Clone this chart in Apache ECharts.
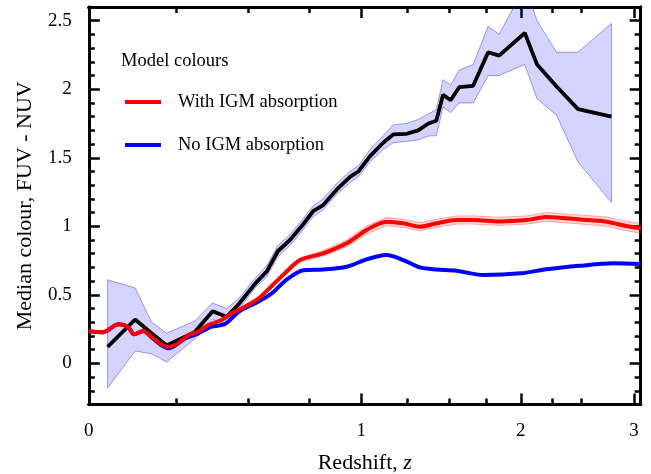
<!DOCTYPE html>
<html>
<head>
<meta charset="utf-8">
<script src="https://cdn.jsdelivr.net/npm/echarts@6/dist/echarts.min.js"></script>
<style>
  html, body { margin: 0; padding: 0; background: #fff; }
  #chart { width: 651px; height: 474px; }
</style>
</head>
<body>
<div id="chart"></div>
<script>
// Median FUV - NUV colour against redshift, x axis scaled as log10(1 + z).

// Axis ticks
const xTickLabels = ['0', '1', '2', '3'];
const xMajorZ = [0, 1, 2, 3];
const xMinorZ = [0.25, 0.5, 0.75, 1.25, 1.5, 1.75, 2.25, 2.5];
const yTickLabels = ['0', '0.5', '1', '1.5', '2', '2.5'];
const yMajor = [0, 0.5, 1, 1.5, 2, 2.5];
const yMinor = [-0.2, -0.1, 0.1, 0.2, 0.3, 0.4, 0.6, 0.7, 0.8, 0.9, 1.1, 1.2, 1.3, 1.4,
                1.6, 1.7, 1.8, 1.9, 2.1, 2.2, 2.3, 2.4];

// Observed median colour with its spread
const obsZ      = [0.049, 0.125, 0.173, 0.219, 0.31, 0.37, 0.42, 0.463, 0.526, 0.572, 0.618, 0.668,
                   0.718, 0.769, 0.815, 0.877, 0.943, 0.985, 1.044, 1.114, 1.169, 1.244, 1.311, 1.372,
                   1.42, 1.462, 1.51, 1.565, 1.658, 1.761, 1.839, 2.031, 2.127, 2.286, 2.47, 2.778];
const obsMedian = [0.12, 0.32, 0.22, 0.13, 0.23, 0.38, 0.34, 0.43, 0.58, 0.67, 0.82, 0.90,
                   1.00, 1.11, 1.155, 1.265, 1.36, 1.40, 1.51, 1.61, 1.67, 1.675, 1.70, 1.75,
                   1.77, 1.96, 1.92, 2.015, 2.025, 2.27, 2.245, 2.41, 2.18, 2.02, 1.855, 1.80];
const obsLow    = [-0.18, 0.09, 0.07, 0.01, 0.18, 0.32, 0.29, 0.39, 0.55, 0.63, 0.78, 0.86,
                   0.96, 1.07, 1.12, 1.23, 1.32, 1.36, 1.47, 1.56, 1.61, 1.62, 1.63, 1.66,
                   1.66, 1.87, 1.83, 1.90, 1.90, 2.10, 2.10, 2.18, 1.93, 1.81, 1.47, 1.175];
const obsHigh   = [0.61, 0.55, 0.30, 0.22, 0.31, 0.44, 0.40, 0.47, 0.62, 0.71, 0.86, 0.94,
                   1.04, 1.15, 1.20, 1.31, 1.40, 1.44, 1.56, 1.66, 1.74, 1.75, 1.78, 1.82,
                   1.85, 2.07, 2.03, 2.14, 2.18, 2.46, 2.40, 2.75, 2.50, 2.27, 2.27, 2.48];

// Model colour with IGM absorption, and its spread
const igmZ      = [0.0, 0.0375, 0.078, 0.105, 0.1225, 0.149, 0.173, 0.198, 0.224, 0.255, 0.288, 0.321,
                   0.355, 0.402, 0.438, 0.487, 0.538, 0.59, 0.645, 0.711, 0.815, 0.927, 1.027, 1.133,
                   1.225, 1.321, 1.421, 1.547, 1.658, 1.843, 2.044, 2.203, 2.485, 2.731, 2.925, 3.07];
const igmColour = [0.235, 0.228, 0.285, 0.265, 0.212, 0.236, 0.194, 0.146, 0.121, 0.146, 0.205, 0.231,
                   0.28, 0.316, 0.365, 0.413, 0.47, 0.56, 0.655, 0.754, 0.803, 0.876, 0.973, 1.034,
                   1.022, 0.997, 1.022, 1.046, 1.046, 1.036, 1.046, 1.068, 1.05, 1.034, 1.002, 0.985];
const igmSpread = [0.004, 0.004, 0.004, 0.004, 0.004, 0.004, 0.004, 0.004, 0.004, 0.004, 0.004, 0.005,
                   0.005, 0.005, 0.006, 0.006, 0.008, 0.01, 0.012, 0.015, 0.02, 0.025, 0.03, 0.03,
                   0.03, 0.03, 0.03, 0.03, 0.03, 0.03, 0.03, 0.032, 0.033, 0.034, 0.035, 0.035];

// Model colour without IGM absorption
const noIgmZ      = [0.0, 0.0375, 0.078, 0.105, 0.1225, 0.149, 0.173, 0.198, 0.224, 0.277, 0.321, 0.367,
                     0.414, 0.463, 0.538, 0.592, 0.653, 0.726, 0.815, 0.927, 1.027, 1.133, 1.225, 1.321,
                     1.421, 1.547, 1.725, 2.0, 2.2, 2.485, 2.8, 3.07];
const noIgmColour = [0.235, 0.228, 0.285, 0.265, 0.212, 0.236, 0.19, 0.14, 0.110, 0.18, 0.219, 0.268,
                     0.287, 0.375, 0.45, 0.51, 0.61, 0.68, 0.685, 0.705, 0.759, 0.79, 0.754, 0.70,
                     0.685, 0.676, 0.645, 0.657, 0.686, 0.712, 0.73, 0.725];

const Z_MAX = 3.07;
const Y_MIN = -0.3, Y_MAX = 2.6;

const toAxis = z => Math.log10(1 + z);
const pairs = (zs, vs) => zs.map((z, i) => [toAxis(z), vs[i]]);

const FONT = 'Liberation Serif';
const X_MAX = toAxis(Z_MAX);

function bandSeries(name, zs, lo, hi, fill, stroke) {
  return {
    type: 'custom',
    name: name,
    silent: true,
    coordinateSystem: 'cartesian2d',
    xAxisIndex: 0,
    yAxisIndex: 0,
    data: [[toAxis(zs[0]), lo[0]]],
    renderItem: function (params, api) {
      const pts = [];
      for (let i = 0; i < zs.length; i++) pts.push(api.coord([toAxis(zs[i]), hi[i]]));
      for (let i = zs.length - 1; i >= 0; i--) pts.push(api.coord([toAxis(zs[i]), lo[i]]));
      const cs = params.coordSys;
      return {
        type: 'polygon',
        shape: { points: pts },
        style: { fill: fill, stroke: stroke, lineWidth: 1 },
        clipPath: { type: 'rect', shape: { x: cs.x, y: cs.y, width: cs.width, height: cs.height } }
      };
    }
  };
}

function xAxisDef(position, values, len, withLabels) {
  return {
    type: 'value', position: position, min: 0, max: X_MAX,
    axisLine: { show: true, onZero: false, lineStyle: { color: '#000', width: 3 } },
    axisTick: { show: true, inside: true, length: len, customValues: values, lineStyle: { color: '#000', width: 2.5 } },
    axisLabel: withLabels ? {
      show: true, customValues: values, margin: 17, color: '#000', fontFamily: FONT, fontSize: 19,
      formatter: v => xTickLabels[xMajorZ.findIndex(z => Math.abs(toAxis(z) - v) < 1e-6)]
    } : { show: false },
    splitLine: { show: false }
  };
}

function yAxisDef(position, values, len, withLabels) {
  return {
    type: 'value', position: position, min: Y_MIN, max: Y_MAX,
    axisLine: { show: true, onZero: false, lineStyle: { color: '#000', width: 3 } },
    axisTick: { show: true, inside: true, length: len, customValues: values, lineStyle: { color: '#000', width: 2.5 } },
    axisLabel: withLabels ? {
      show: true, customValues: values, margin: 17, color: '#000', fontFamily: FONT, fontSize: 19,
      formatter: v => yTickLabels[yMajor.findIndex(t => Math.abs(t - v) < 1e-6)]
    } : { show: false },
    splitLine: { show: false }
  };
}

const xMajor = xMajorZ.map(toAxis);
const xMinor = xMinorZ.map(toAxis);

const igmLow = igmColour.map((v, i) => v - igmSpread[i]);
const igmHigh = igmColour.map((v, i) => v + igmSpread[i]);

const xBottom = xAxisDef('bottom', xMajor, 11, true);
xBottom.name = '{a|Redshift, }{b|z}';
xBottom.nameLocation = 'middle';
xBottom.nameGap = 48;
xBottom.nameTextStyle = {
  color: '#000', fontFamily: FONT, fontSize: 22,
  rich: { a: { fontFamily: FONT, fontSize: 22, color: '#000' },
          b: { fontFamily: FONT, fontSize: 22, color: '#000', fontStyle: 'italic' } }
};

const yLeft = yAxisDef('left', yMajor, 11, true);
yLeft.name = 'Median colour, FUV - NUV';
yLeft.nameLocation = 'middle';
yLeft.nameRotate = 90;
yLeft.nameGap = 53;
yLeft.nameTextStyle = { color: '#000', fontFamily: FONT, fontSize: 22 };

const chart = echarts.init(document.getElementById('chart'), null, { renderer: 'canvas' });
chart.setOption({
  animation: false,
  backgroundColor: '#fff',
  grid: { left: 88.8, right: 10.3, top: 7, bottom: 69.5, containLabel: false, outerBoundsMode: 'none' },
  title: {
    text: 'Model colours', left: 121, top: 51, padding: 0,
    textStyle: { fontFamily: FONT, fontSize: 18.5, fontWeight: 'normal', color: '#000', lineHeight: 20 }
  },
  legend: {
    data: ['With IGM absorption', 'No IGM absorption'],
    orient: 'vertical', left: 125, top: 92, padding: 0,
    icon: 'rect', itemWidth: 36, itemHeight: 4, itemGap: 23,
    textStyle: { fontFamily: FONT, fontSize: 18.5, color: '#000', lineHeight: 20, padding: [0, 0, 0, 12] }
  },
  xAxis: [
    xBottom,
    xAxisDef('bottom', xMinor, 6, false),
    xAxisDef('top', xMajor, 11, false),
    xAxisDef('top', xMinor, 6, false)
  ],
  yAxis: [
    yLeft,
    yAxisDef('left', yMinor, 6, false),
    yAxisDef('right', yMajor, 11, false),
    yAxisDef('right', yMinor, 6, false)
  ],
  series: [
    bandSeries('obsBand', obsZ, obsLow, obsHigh, 'rgba(0,0,255,0.17)', 'rgba(60,60,255,0.5)'),
    {
      type: 'line', name: 'Observed median', xAxisIndex: 0, yAxisIndex: 0,
      data: pairs(obsZ, obsMedian), showSymbol: false, color: '#000',
      lineStyle: { color: '#000', width: 3.8 }
    },
    bandSeries('igmBand', igmZ, igmLow, igmHigh, 'rgba(255,0,0,0.16)', 'rgba(255,80,80,0.45)'),
    {
      type: 'line', name: 'No IGM absorption', xAxisIndex: 0, yAxisIndex: 0,
      data: pairs(noIgmZ, noIgmColour), showSymbol: false, smooth: 0.3, color: '#0000ff',
      lineStyle: { color: '#0000ff', width: 4 }
    },
    {
      type: 'line', name: 'With IGM absorption', xAxisIndex: 0, yAxisIndex: 0,
      data: pairs(igmZ, igmColour), showSymbol: false, smooth: 0.3, color: '#ff0000',
      lineStyle: { color: '#ff0000', width: 4 }
    }
  ]
});
</script>
</body>
</html>
